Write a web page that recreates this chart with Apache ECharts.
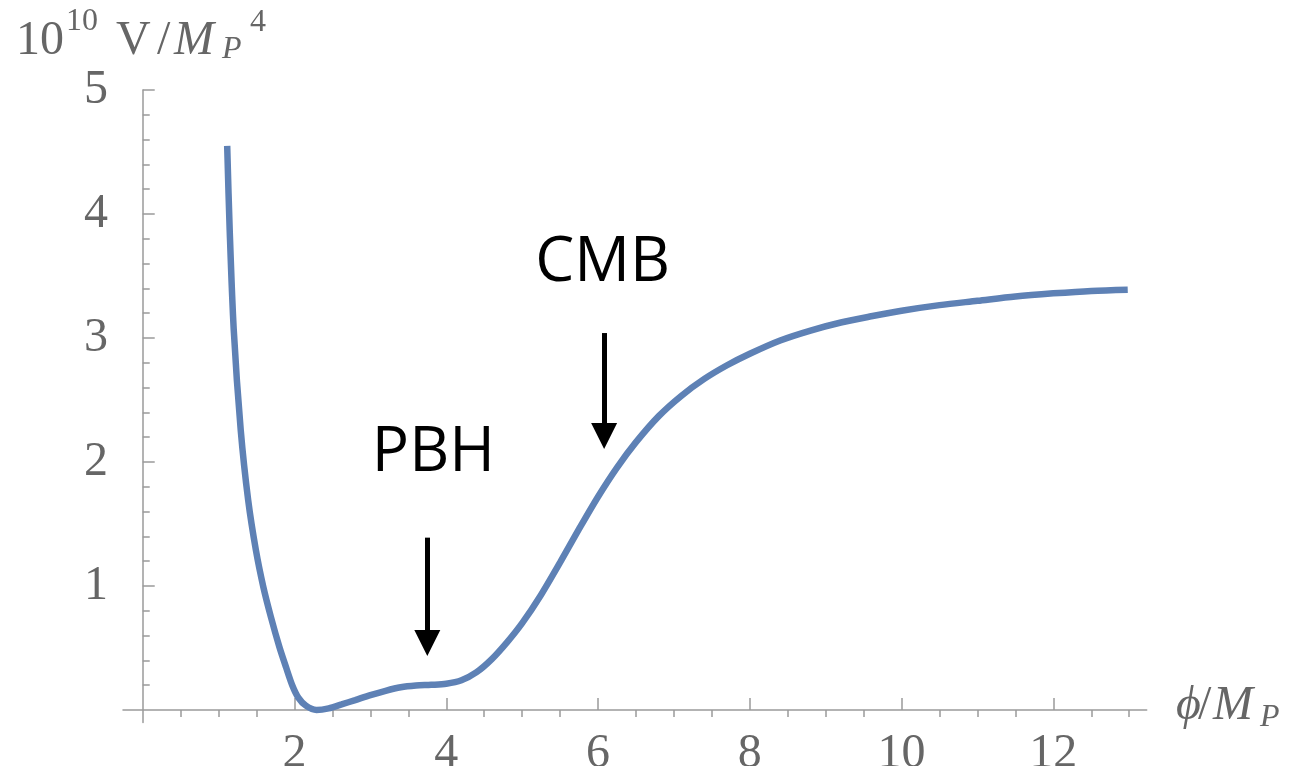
<!DOCTYPE html>
<html>
<head>
<meta charset="utf-8">
<script src="https://cdn.jsdelivr.net/npm/echarts@6/dist/echarts.min.js"></script>
<style>html,body{margin:0;padding:0;background:#fff}#c{width:1290px;height:766px}</style>
</head>
<body>
<div id="c"></div>
<script>
// potential curve (phi/M_P, 10^10 V/M_P^4)
const phi = [1.113,1.146,1.199,1.291,1.39,1.491,1.59,1.689,1.80,1.891,1.97,2.05,2.15,2.29,2.45,2.62,2.80,3.00,3.20,3.40,3.60,3.80,4.00,4.20,4.40,4.60,4.80,5.00,5.25,5.50,5.75,6.00,6.25,6.50,6.80,7.10,7.40,7.70,8.00,8.40,8.80,9.20,9.60,10.0,10.5,11.0,11.5,12.0,12.5,12.98];
const V   = [4.55,3.87,3.07,2.26,1.69,1.29,0.99,0.75,0.51,0.34,0.20,0.10,0.035,0.00,0.013,0.045,0.08,0.12,0.155,0.183,0.197,0.203,0.212,0.24,0.305,0.41,0.545,0.70,0.93,1.19,1.46,1.72,1.955,2.16,2.37,2.535,2.67,2.78,2.873,2.98,3.06,3.125,3.175,3.22,3.265,3.30,3.335,3.36,3.38,3.39];

// axis ticks
const xMajor = [2,4,6,8,10,12];
const xMinor = [0.5,1,1.5,2.5,3,3.5,4.5,5,5.5,6.5,7,7.5,8.5,9,9.5,10.5,11,11.5,12.5,13];
const yMajor = [1,2,3,4,5];
const yMinor = [0.2,0.4,0.6,0.8,1.2,1.4,1.6,1.8,2.2,2.4,2.6,2.8,3.2,3.4,3.6,3.8,4.2,4.4,4.6,4.8];

// annotations
const noteNames = ['PBH','CMB'];
const noteX = [3.83, 6.06];
const noteY = [2.07, 3.60];
const arrowX = [3.75, 6.08];
const arrowTop = [1.39, 3.04];
const arrowHead = [0.54, 2.21];

const axisColor = '#9a9a9a';
const labelColor = '#666666';
const serif = '"Liberation Serif", "DejaVu Serif", serif';

const chart = echarts.init(document.getElementById('c'), null, {renderer:'canvas'});

const baseX = {type:'value', min:-0.26, max:13.23, splitLine:{show:false},
  axisLine:{onZero:true, lineStyle:{color:axisColor, width:1.5}}};
const baseY = {type:'value', min:-0.1, max:5, splitLine:{show:false},
  axisLine:{onZero:true, lineStyle:{color:axisColor, width:1.5}}};

const curve = phi.map((x,i)=>[x, V[i]]);
const arrows = arrowX.map((x,i)=>[{coord:[x, arrowTop[i]]},{coord:[x, arrowHead[i]]}]);
const notes = noteX.map((x,i)=>({value:[x, noteY[i]], name:noteNames[i]}));

chart.setOption({
  animation:false,
  grid:{left:123, right:143.3, top:90, bottom:43.6, containLabel:false, outerBoundsMode:'none'},
  xAxis:[
    Object.assign({}, baseX, {
      axisTick:{show:true, inside:true, length:12, customValues:xMajor, lineStyle:{color:axisColor, width:1.5}},
      axisLabel:{show:true, customValues:xMajor, margin:8, color:labelColor, fontFamily:serif, fontSize:48}
    }),
    Object.assign({}, baseX, {
      axisLine:{show:false, onZero:true},
      axisTick:{show:true, inside:true, length:7, customValues:xMinor, lineStyle:{color:axisColor, width:1.5}},
      axisLabel:{show:false}
    })
  ],
  yAxis:[
    Object.assign({}, baseY, {
      position:'left',
      axisTick:{show:true, inside:true, length:12, customValues:yMajor, lineStyle:{color:axisColor, width:1.5}},
      axisLabel:{show:true, customValues:yMajor, margin:15, color:labelColor, fontFamily:serif, fontSize:48}
    }),
    Object.assign({}, baseY, {
      position:'left',
      axisLine:{show:false, onZero:true},
      axisTick:{show:true, inside:true, length:7, customValues:yMinor, lineStyle:{color:axisColor, width:1.5}},
      axisLabel:{show:false}
    })
  ],
  series:[
    {
      type:'line', data:curve, smooth:0.3, showSymbol:false, silent:true,
      lineStyle:{color:'#5E81B5', width:6.5}, clip:false,
      markLine:{
        silent:true, symbol:['none','triangle'], symbolSize:26,
        label:{show:false},
        lineStyle:{color:'#000', width:5, type:'solid', opacity:1},
        emphasis:{disabled:true},
        data:arrows
      }
    },
    {
      type:'scatter', data:notes, symbolSize:0, silent:true,
      label:{show:true, position:'inside', formatter:p=>p.name, color:'#000', opacity:1,
        fontFamily:'"Open Sans", "Noto Sans", sans-serif', fontSize:62, align:'center', verticalAlign:'middle'}
    }
  ],
  graphic:[
    {type:'text', x:16, y:41, style:{text:'10', font:'48px '+serif, fill:labelColor, verticalAlign:'middle'}},
    {type:'text', x:66, y:22, style:{text:'10', font:'32px '+serif, fill:labelColor, verticalAlign:'middle'}},
    {type:'text', x:116, y:41, style:{text:'V', font:'48px '+serif, fill:labelColor, verticalAlign:'middle'}},
    {type:'text', x:157, y:41, style:{text:'/', font:'48px '+serif, fill:labelColor, verticalAlign:'middle'}},
    {type:'text', x:174, y:41, style:{text:'M', font:'italic 48px '+serif, fill:labelColor, verticalAlign:'middle'}},
    {type:'text', x:222, y:50, style:{text:'P', font:'italic 32px '+serif, fill:labelColor, verticalAlign:'middle'}},
    {type:'text', x:250, y:23, style:{text:'4', font:'32px '+serif, fill:labelColor, verticalAlign:'middle'}},
    {type:'text', x:1176, y:706, style:{text:'\u03D5', font:'italic 48px '+serif, fill:labelColor, verticalAlign:'middle'}},
    {type:'text', x:1198, y:706, style:{text:'/', font:'48px '+serif, fill:labelColor, verticalAlign:'middle'}},
    {type:'text', x:1213, y:706, style:{text:'M', font:'italic 48px '+serif, fill:labelColor, verticalAlign:'middle'}},
    {type:'text', x:1260, y:718, style:{text:'P', font:'italic 32px '+serif, fill:labelColor, verticalAlign:'middle'}}
  ]
});
</script>
</body>
</html>
